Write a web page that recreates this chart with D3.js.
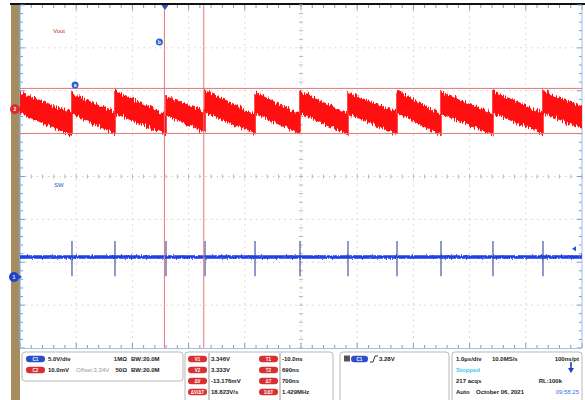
<!DOCTYPE html>
<html><head><meta charset="utf-8">
<script src="https://cdn.jsdelivr.net/npm/d3@7"></script>
<style>body{margin:0;background:#fff}svg{display:block}</style>
</head><body><svg id="c" width="585" height="400"></svg>
<script>
// ---- data ----
const timeDomain = [-2.58, 7.42];             // µs, 1.0 µs/div, trigger at 0
const edgeTimes = [-1.655, -0.890, 0.018, 0.712, 1.602, 2.402, 3.256, 4.128, 4.911, 5.836, 6.726]; // µs, switching edges
const voutTopStart = [3.3447, 3.3444, 3.3453, 3.3435, 3.3453, 3.3447, 3.3450, 3.3447, 3.3453, 3.3447, 3.3450, 3.3450];
const voutBotStart = [3.3390, 3.3388, 3.3390, 3.3383, 3.3392, 3.3388, 3.3390, 3.3388, 3.3392, 3.3388, 3.3390, 3.3390];
const voutTopEnd   = [3.3388, 3.3388, 3.3382, 3.3392, 3.3385, 3.3385, 3.3385, 3.3388, 3.3382, 3.3385, 3.3388, 3.3406];
const voutBotEnd   = [3.3325, 3.3330, 3.3327, 3.3336, 3.3330, 3.3330, 3.3327, 3.3330, 3.3327, 3.3327, 3.3330, 3.3346];
const voutDomain = [3.2710, 3.3701];          // V, red channel screen range
const swDomain = [-8.28, 31.72];              // V, blue channel, 5 V/div
const swBase = 2.33, swSpikeHigh = 4.2, swSpikeLow = 0.1;
const cursorTimes = [-0.01, 0.69];
const cursorVolts = [3.346, 3.333];
const redOffset = 3.34, trigLevel = 3.28;
const chanRows = [
  {pill:"C1", color:"#2a4fc8", a:"5.0V/div", b:"", c:"1MΩ", d:"BW:20.0M"},
  {pill:"C2", color:"#d83030", a:"10.0mV", b:"Offset:3.34V", c:"50Ω", d:"BW:20.0M"}
];
const cursorRows = [
  ["V1","3.346V","T1","-10.0ns"],
  ["V2","3.333V","T2","690ns"],
  ["ΔV","-13.176mV","ΔT","700ns"],
  ["ΔV/ΔT","18.823V/s","1/ΔT","1.429MHz"]
];
const acqRows = [
  ["1.0µs/div","10.0MS/s","100ns/pt"],
  ["Stopped","",""],
  ["217 acqs","RL:100k",""],
  ["Auto","October 06, 2021","09:58:25"]
];

// ---- layout ----
const svg = d3.select("#c");
const L = 20, R = 582, T = 5, B = 348;
const x = d3.scaleLinear().domain(timeDomain).range([L, R]);
const yR = d3.scaleLinear().domain(voutDomain).range([B, T]);
const yB = d3.scaleLinear().domain(swDomain).range([B, T]);
const gx = d3.scaleLinear().domain([0, 10]).range([L, R]);
const gy = d3.scaleLinear().domain([0, 8]).range([T, B]);

const defs = svg.append("defs");
function noiseFilter(id, freq, scale, seed) {
  const f = defs.append("filter").attr("id", id).attr("filterUnits", "userSpaceOnUse")
    .attr("x", 0).attr("y", 0).attr("width", 585).attr("height", 400)
    .attr("color-interpolation-filters", "sRGB");
  f.append("feTurbulence").attr("type", "fractalNoise").attr("baseFrequency", freq)
    .attr("numOctaves", 2).attr("seed", seed).attr("result", "n");
  f.append("feColorMatrix").attr("in", "n").attr("type", "matrix")
    .attr("values", "0 0 0 0 0.5  0 1 0 0 0  0 0 1 0 0  0 0 0 0 1").attr("result", "m");
  f.append("feDisplacementMap").attr("in", "SourceGraphic").attr("in2", "m")
    .attr("scale", scale).attr("xChannelSelector", "R").attr("yChannelSelector", "G");
}
noiseFilter("nz", "0.9 0.05", 10, 3);
noiseFilter("nzb", "0.8 0.2", 3, 7);
defs.append("clipPath").attr("id", "clip").append("rect")
  .attr("x", L).attr("y", T).attr("width", R - L).attr("height", B - T);

// background pieces
svg.append("rect").attr("x", 11).attr("y", 5).attr("width", 9).attr("height", 395).attr("fill", "#a68c5e");
svg.append("rect").attr("x", 10).attr("y", 3).attr("width", 575).attr("height", 2).attr("fill", "#111");
svg.append("rect").attr("x", L).attr("y", T).attr("width", R - L).attr("height", B - T).attr("fill", "#fff");

// grid
const grid = svg.append("g");
grid.selectAll(".gv").data(d3.range(1, 10)).join("line")
  .attr("x1", d => gx(d)).attr("x2", d => gx(d)).attr("y1", T).attr("y2", B)
  .attr("stroke", "#cfcfcf").attr("stroke-dasharray", "1.5,4.12");
grid.selectAll(".gh").data(d3.range(1, 8)).join("line")
  .attr("y1", d => gy(d)).attr("y2", d => gy(d)).attr("x1", L).attr("x2", R)
  .attr("stroke", "#cfcfcf").attr("stroke-dasharray", "1.5,4.12");
// center axis ticks
const minX = d3.range(0, 10.001, 0.2), minY = d3.range(0, 8.001, 0.2);
grid.selectAll(".cx").data(minX).join("line")
  .attr("x1", d => gx(d)).attr("x2", d => gx(d)).attr("y1", gy(4) - 2).attr("y2", gy(4) + 2)
  .attr("stroke", "#b8b8b8");
grid.selectAll(".cy").data(minY).join("line")
  .attr("y1", d => gy(d)).attr("y2", d => gy(d)).attr("x1", gx(5) - 2).attr("x2", gx(5) + 2)
  .attr("stroke", "#b8b8b8");
// edge ticks
const isMaj = d => Math.abs(d - Math.round(d)) < 1e-6;
grid.selectAll(".tt").data(minX).join("line")
  .attr("x1", d => gx(d)).attr("x2", d => gx(d)).attr("y1", T).attr("y2", d => T + (isMaj(d) ? 5 : 3))
  .attr("stroke", "#8899b0");
grid.selectAll(".tb").data(minX).join("line")
  .attr("x1", d => gx(d)).attr("x2", d => gx(d)).attr("y1", B).attr("y2", d => B - (isMaj(d) ? 5 : 3))
  .attr("stroke", "#8899b0");
grid.selectAll(".tl").data(minY).join("line")
  .attr("y1", d => gy(d)).attr("y2", d => gy(d)).attr("x1", L).attr("x2", d => L + (isMaj(d) ? 5 : 3))
  .attr("stroke", "#6f9fe0");
grid.selectAll(".tr").data(minY).join("line")
  .attr("y1", d => gy(d)).attr("y2", d => gy(d)).attr("x1", R).attr("x2", d => R - (isMaj(d) ? 5 : 3))
  .attr("stroke", "#6f9fe0");
svg.append("line").attr("x1", L).attr("x2", L).attr("y1", T).attr("y2", B).attr("stroke", "#7fb0ea").attr("stroke-width", 1.2);
svg.append("line").attr("x1", R).attr("x2", R).attr("y1", T).attr("y2", B).attr("stroke", "#9fc0ea");
svg.append("line").attr("x1", L).attr("x2", R).attr("y1", B + 0.5).attr("y2", B + 0.5).attr("stroke", "#9fc0ea");

// traces
const plot = svg.append("g").attr("clip-path", "url(#clip)");
const starts = [timeDomain[0], ...edgeTimes], ends = [...edgeTimes, timeDomain[1]];
const segs = starts.map((t0, i) => [
  [x(t0), yR(voutTopStart[i])], [x(ends[i]), yR(voutTopEnd[i])],
  [x(ends[i]), yR(voutBotEnd[i])], [x(t0), yR(voutBotStart[i])]
]);
plot.append("g").attr("filter", "url(#nz)").selectAll("path").data(segs).join("path")
  .attr("d", d => d3.line()(d) + "Z").attr("fill", "#ff1010").attr("stroke", "#ff1010").attr("stroke-width", 1.5);

plot.append("g").attr("filter", "url(#nzb)").append("line")
  .attr("x1", x(timeDomain[0])).attr("x2", x(timeDomain[1]))
  .attr("y1", yB(swBase)).attr("y2", yB(swBase)).attr("stroke", "#1d3fe6").attr("stroke-width", 3.5);
plot.selectAll(".sp").data(edgeTimes).join("line")
  .attr("x1", d => x(d)).attr("x2", d => x(d)).attr("y1", yB(swSpikeHigh)).attr("y2", yB(swSpikeLow))
  .attr("stroke", "#33489a").attr("stroke-width", 1.1);

// cursors
svg.selectAll(".cv").data(cursorTimes).join("line")
  .attr("x1", d => x(d)).attr("x2", d => x(d)).attr("y1", T).attr("y2", B)
  .attr("stroke", "#e07878").attr("stroke-width", 1);
svg.selectAll(".ch").data(cursorVolts).join("line")
  .attr("x1", L).attr("x2", R).attr("y1", d => yR(d)).attr("y2", d => yR(d))
  .attr("stroke", "#e07878").attr("stroke-width", 1);

// markers
svg.append("path").attr("d", `M${x(0)-3.5},${T}L${x(0)+3.5},${T}L${x(0)},${T+5}Z`).attr("fill", "#2a50c8");
function circ(cx, cy, r, fill, label) {
  svg.append("circle").attr("cx", cx).attr("cy", cy).attr("r", r).attr("fill", fill);
  svg.append("text").attr("x", cx).attr("y", cy + 1.8).attr("text-anchor", "middle")
    .attr("font-family", "Liberation Sans, Arial").attr("font-size", 5).attr("font-weight", "bold")
    .attr("fill", "#fff").text(label);
}
circ(x(-0.1), 42, 3.5, "#2a60d0", "b");
circ(x(-1.6), 85, 3.5, "#2a60d0", "a");
circ(15, yR(redOffset), 5, "#e02828", "2");
circ(14, yB(0), 5, "#2040d0", "1");
svg.append("path").attr("d", `M19,${yB(0)-2}L22,${yB(0)}L19,${yB(0)+2}Z`).attr("fill", "#2040d0");
svg.append("path").attr("d", `M572,${yB(trigLevel)}L576,${yB(trigLevel)-2.5}L576,${yB(trigLevel)+2.5}Z`).attr("fill", "#2a50c8");

const F = "Liberation Sans, Arial, sans-serif";
svg.append("text").attr("x", 53).attr("y", 33).attr("font-family", F).attr("font-size", 6).attr("fill", "#c03030").text("Vout");
svg.append("text").attr("x", 54).attr("y", 187).attr("font-family", F).attr("font-size", 6).attr("fill", "#2a50c8").text("SW");

// ---- bottom panels ----
const P = svg.append("g").attr("font-family", F).attr("font-size", 6).attr("font-weight", "bold").attr("fill", "#222");
function box(x0, y0, w, h) {
  P.append("rect").attr("x", x0).attr("y", y0).attr("width", w).attr("height", h).attr("rx", 3)
    .attr("fill", "#fff").attr("stroke", "#b8b8b8").attr("stroke-width", 1);
}
function pill(x0, cy, w, color, label) {
  P.append("rect").attr("x", x0).attr("y", cy - 3.3).attr("width", w).attr("height", 6.6).attr("rx", 3.3).attr("fill", color);
  P.append("text").attr("x", x0 + w / 2).attr("y", cy + 1.7).attr("text-anchor", "middle").attr("font-size", 4.5)
    .attr("fill", "#fff").text(label);
}
const rowY = [359, 370, 381, 392];

box(22, 352, 161, 29);
chanRows.forEach((r, i) => {
  const cy = rowY[i];
  pill(26, cy, 19, r.color, r.pill);
  P.append("text").attr("x", 48).attr("y", cy + 2).text(r.a);
  P.append("text").attr("x", 76).attr("y", cy + 2).attr("fill", "#999").attr("font-weight", "normal").text(r.b);
  P.append("text").attr("x", 127).attr("y", cy + 2).attr("text-anchor", "end").text(r.c);
  P.append("text").attr("x", 131).attr("y", cy + 2).text(r.d);
});

box(185, 352, 148, 52);
[209, 280].forEach(v => P.append("line").attr("x1", v).attr("x2", v).attr("y1", 353).attr("y2", 400).attr("stroke", "#999"));
cursorRows.forEach((r, i) => {
  const cy = rowY[i];
  pill(188, cy, 19, "#d83030", r[0]);
  P.append("text").attr("x", 211).attr("y", cy + 2).text(r[1]);
  pill(259, cy, 19, "#d83030", r[2]);
  P.append("text").attr("x", 282).attr("y", cy + 2).text(r[3]);
});

box(340, 352, 109, 52);
P.append("rect").attr("x", 344).attr("y", 355.5).attr("width", 6).attr("height", 6).attr("fill", "#555");
pill(351, rowY[0], 17, "#2a4fc8", "C1");
P.append("path").attr("d", `M370,${rowY[0]+3}L373,${rowY[0]+3}L375,${rowY[0]-3}L378,${rowY[0]-3}`)
  .attr("fill", "none").attr("stroke", "#222").attr("stroke-width", 0.9);
P.append("text").attr("x", 379).attr("y", rowY[0] + 2).text(trigLevel.toFixed(2) + "V");

box(452, 352, 130, 52);
acqRows.forEach((r, i) => {
  const cy = rowY[i] + 2;
  P.append("text").attr("x", 456).attr("y", cy).attr("fill", i === 1 ? "#3cc8ee" : "#222").text(r[0]);
  if (i === 0) {
    P.append("text").attr("x", 492).attr("y", cy).text(r[1]);
    P.append("text").attr("x", 579).attr("y", cy).attr("text-anchor", "end").text(r[2]);
  } else if (i === 2) {
    P.append("text").attr("x", 562).attr("y", cy).attr("text-anchor", "end").text(r[1]);
  } else if (i === 3) {
    P.append("text").attr("x", 476).attr("y", cy).text(r[1]);
    P.append("text").attr("x", 579).attr("y", cy).attr("text-anchor", "end").attr("fill", "#3a70d8").attr("font-weight", "normal").text(r[2]);
  }
});
P.append("line").attr("x1", 571).attr("x2", 571).attr("y1", 362).attr("y2", 369).attr("stroke", "#2040c0").attr("stroke-width", 1.6);
P.append("path").attr("d", "M568,368L574,368L571,373Z").attr("fill", "#2040c0");
</script></body></html>
